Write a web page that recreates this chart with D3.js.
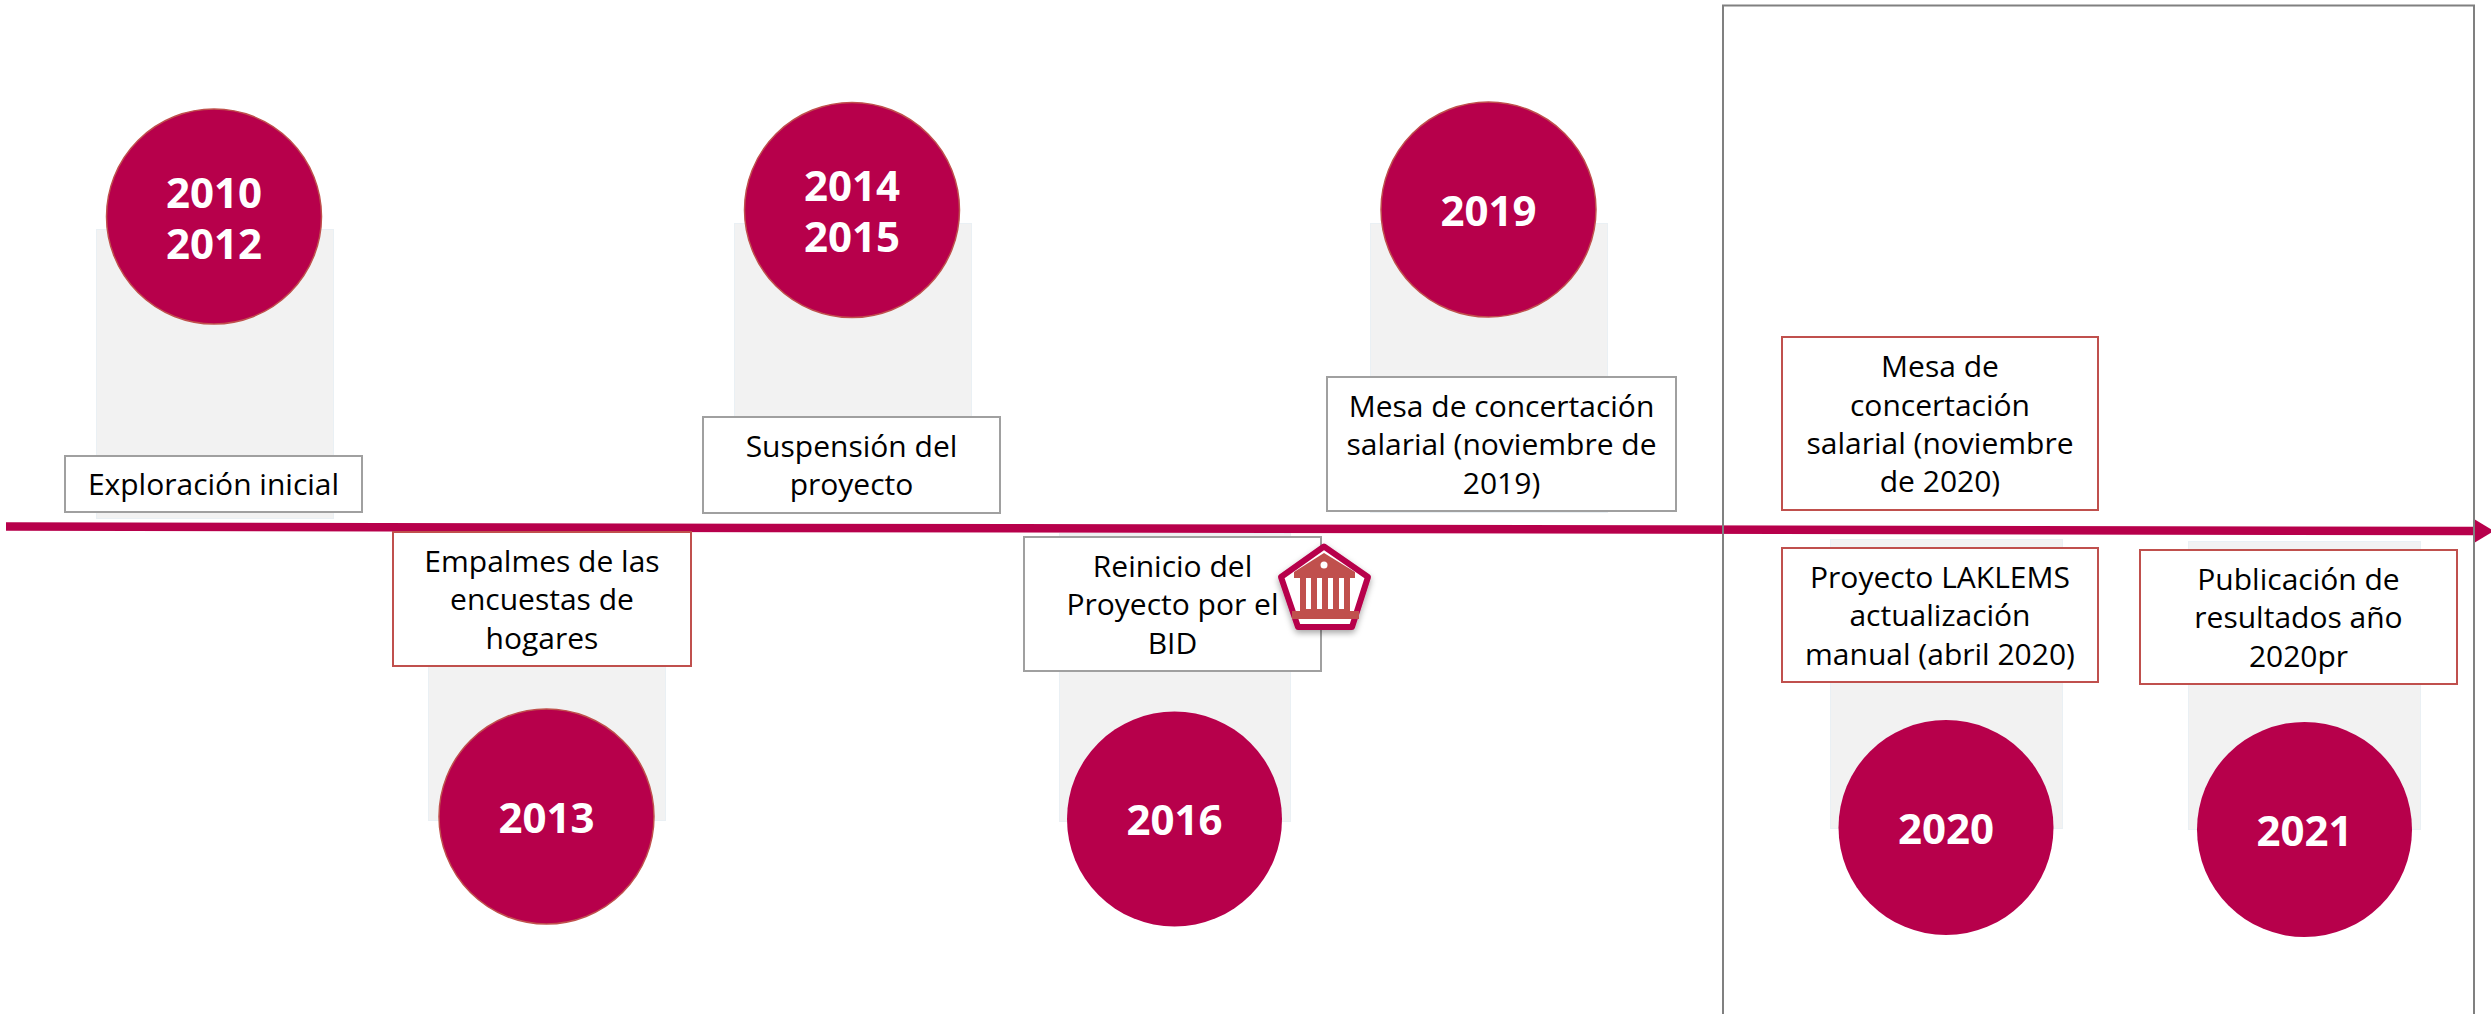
<!DOCTYPE html>
<html lang="es">
<head>
<meta charset="utf-8">
<title>Línea de tiempo</title>
<script src="https://cdn.jsdelivr.net/npm/d3@7/dist/d3.min.js"></script>
<style>
html,body{margin:0;padding:0;background:#fff;overflow:hidden}
svg{display:block}
text{font-family:"Open Sans",sans-serif;text-anchor:middle}
</style>
</head>
<body>
<svg id="chart" width="2491" height="1014" viewBox="0 0 2491 1014"></svg>
<script>
// ---- content ----
const milestones = ["2010-2012","2014-2015","2013","2016","2019","2020","2021"];
const yearLines = [["2010","2012"],["2014","2015"],["2013"],["2016"],["2019"],["2020"],["2021"]];
const captionKeys = ["exploracion","suspension","empalmes","reinicio","mesa2019","mesa2020","laklems","publicacion"];
const captionLines = [
  ["Exploración inicial"],
  ["Suspensión del","proyecto"],
  ["Empalmes de las","encuestas de","hogares"],
  ["Reinicio del","Proyecto por el","BID"],
  ["Mesa de concertación","salarial (noviembre de","2019)"],
  ["Mesa de","concertación","salarial (noviembre","de 2020)"],
  ["Proyecto LAKLEMS","actualización","manual (abril 2020)"],
  ["Publicación de","resultados año","2020pr"]
];

// ---- layout scales (geometry, kept apart from content) ----
const ord = (domain, range) => d3.scaleOrdinal().domain(domain).range(range);
const circleX = ord(milestones,[214,852,546.5,1174.5,1488.5,1946,2304.5]);
const circleY = ord(milestones,[216.5,210,816.5,819,209.5,827.5,829.5]);
const circleEdge = ord(milestones,[true,true,true,false,true,false,false]);
const bandX0 = ord(milestones,[96,734,428,1059,1370,1830,2188]);
const bandX1 = ord(milestones,[334,972,666,1291,1608,2063,2421]);
const bandY0 = ord(milestones,[229,223,531,533,223,539,541]);
const bandY1 = ord(milestones,[519,513,821,822,513,829,830]);
const boxX0 = ord(captionKeys,[64,702,392,1023,1326,1781,1781,2139]);
const boxX1 = ord(captionKeys,[363,1001,692,1322,1677,2099,2099,2458]);
const boxY0 = ord(captionKeys,[455,416,531,536,376,336,547,549]);
const boxY1 = ord(captionKeys,[513,514,667,672,512,511,683,685]);
const boxStroke = ord(captionKeys,["#a0a0a0","#a0a0a0","#c0504d","#a0a0a0","#a0a0a0","#c0504d","#c0504d","#c0504d"]);

const CRIMSON = "#b7004b", BRICK = "#c0504d";
const svg = d3.select("#chart");
const defs = svg.append("defs");
defs.append("filter").attr("id","soft").attr("x","-30%").attr("y","-30%").attr("width","160%").attr("height","170%")
  .append("feDropShadow").attr("dx",0).attr("dy",3).attr("stdDeviation",3).attr("flood-color","#000").attr("flood-opacity",0.35);

// grey bands
svg.append("g").selectAll("rect").data(milestones).join("rect")
  .attr("x",d=>bandX0(d)+0.5).attr("y",d=>bandY0(d)+0.5)
  .attr("width",d=>bandX1(d)-bandX0(d)-1).attr("height",d=>bandY1(d)-bandY0(d)-1)
  .attr("fill","#f2f2f2").attr("stroke","#eaf0f4").attr("stroke-width",1);

// timeline
const lineGen = d3.line();
const axisX = d3.scaleLinear().domain([0,1]).range([6,2474]);
const axisY = d3.scaleLinear().domain([0,1]).range([526.5,531]);
svg.append("path").attr("d",lineGen([[axisX(0),axisY(0)],[axisX(1),axisY(1)]]))
  .attr("stroke",CRIMSON).attr("stroke-width",8.5).attr("fill","none");
svg.append("path").attr("d",lineGen([[axisX(1),axisY(1)-12],[axisX(1)+20,axisY(1)],[axisX(1),axisY(1)+12]])+"Z")
  .attr("fill",CRIMSON);

// caption boxes
const cap = svg.append("g").selectAll("g").data(captionKeys).join("g");
cap.append("rect")
  .attr("x",d=>boxX0(d)+1).attr("y",d=>boxY0(d)+1)
  .attr("width",d=>boxX1(d)-boxX0(d)-2).attr("height",d=>boxY1(d)-boxY0(d)-2)
  .attr("fill","#fff").attr("stroke",d=>boxStroke(d)).attr("stroke-width",2);
const LH = 38.3;
cap.each(function(k,i){
  const ls = captionLines[i];
  const cx = (boxX0(k)+boxX1(k))/2, cy=(boxY0(k)+boxY1(k))/2 + 11.3;
  d3.select(this).selectAll("text").data(ls).join("text")
    .attr("x",cx).attr("y",(_,j)=>cy+(j-(ls.length-1)/2)*LH)
    .attr("font-size",30).attr("fill","#000").text(d=>d);
});

// year circles
const yr = svg.append("g").selectAll("g").data(milestones).join("g");
yr.append("circle").attr("cx",d=>circleX(d)).attr("cy",d=>circleY(d)).attr("r",107.5)
  .attr("fill",CRIMSON).attr("stroke",d=>circleEdge(d)?BRICK:"none").attr("stroke-width",1.5);
yr.each(function(k,i){
  const ls = yearLines[i];
  const base = ls.length===2 ? circleY(k)-9 : circleY(k)+16;
  d3.select(this).append("text")
    .attr("font-size",42).attr("font-weight",700).attr("fill","#fff")
    .selectAll("tspan").data(ls).join("tspan")
    .attr("x",circleX(k)).attr("y",(_,j)=>base+j*51).text(d=>d);
});

// institution badge on the "Reinicio" box
const badge = svg.append("g").attr("transform","translate(1324,590)");
const pent = [[0,-43.5],[44,-13],[28,37],[-26,37],[-43,-13]];
badge.append("path").attr("d",d3.line()(pent)+"Z").attr("fill","#fff").attr("stroke",CRIMSON)
  .attr("stroke-width",6).attr("stroke-linejoin","round").attr("filter","url(#soft)");
badge.append("path").attr("d",d3.line()([[0,-37],[31,-18],[-30,-18]])+"Z").attr("fill",BRICK);
badge.append("circle").attr("cy",-25).attr("r",3.5).attr("fill","#fff");
badge.append("rect").attr("x",-30).attr("y",-18).attr("width",61).attr("height",6).attr("fill",BRICK);
badge.append("rect").attr("x",-24).attr("y",-12).attr("width",50).attr("height",33).attr("fill",BRICK);
badge.selectAll("rect.slot").data([-18,-7,4,15]).join("rect").attr("class","slot")
  .attr("x",d=>d).attr("y",-12).attr("width",5).attr("height",31).attr("fill","#fff");
badge.append("rect").attr("x",-32).attr("y",21).attr("width",67).attr("height",8).attr("fill",BRICK);

// 2020-2021 frame
svg.append("path").attr("d",d3.line()([[1723,1016],[1723,5.5],[2474,5.5],[2474,1016]]))
  .attr("fill","none").attr("stroke","#808080").attr("stroke-width",2);
</script>
</body>
</html>
